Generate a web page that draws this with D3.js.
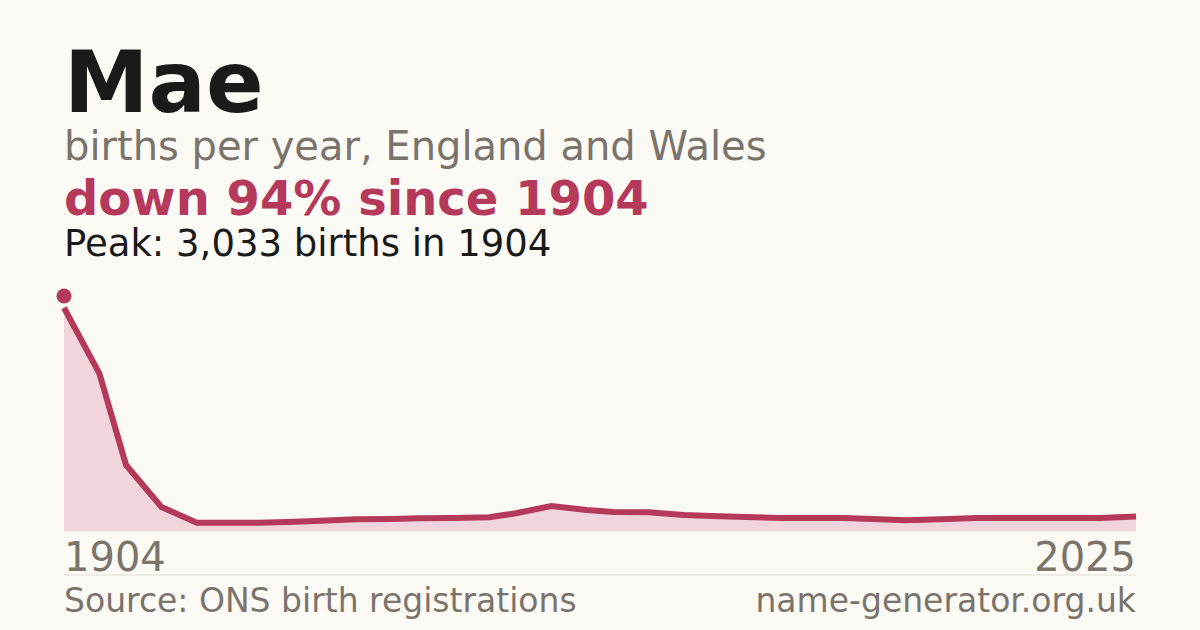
<!DOCTYPE html>
<html>
<head>
<meta charset="utf-8">
<script src="https://cdn.jsdelivr.net/npm/d3@7"></script>
<style>
  html, body { margin: 0; padding: 0; background: #fbfaf5; }
  svg { display: block; font-family: "DejaVu Sans", sans-serif; }
</style>
</head>
<body>
<div id="chart"></div>
<script>
// Births per year for the name
const years = [1904, 1908, 1911, 1915, 1919, 1922, 1926, 1930, 1933, 1937, 1941, 1944,
    1948, 1952, 1955, 1959, 1963, 1966, 1970, 1974, 1977, 1981, 1985, 1988,
    1992, 1996, 1999, 2003, 2007, 2010, 2014, 2018, 2021, 2025];
const births = [2881, 2030, 848, 304, 101, 101, 101, 114, 127, 145, 149, 158,
    162, 171, 223, 317, 265, 240, 236, 201, 188, 175, 162, 162,
    162, 145, 132, 145, 162, 162, 162, 162, 162, 182];
const peakYear = 1904;
const peakValue = 3033;
const xTickLabels = ['1904', '2025'];

const W = 1200, H = 630;
const left = 64, right = 1136;
const red = '#b5395a';
const grey = '#7a746c';

const svg = d3.select('#chart').append('svg')
    .attr('width', W)
    .attr('height', H);

svg.append('rect')
    .attr('width', W)
    .attr('height', H)
    .attr('fill', '#fbfaf5');

// Headings
svg.append('text')
    .attr('x', left).attr('y', 112)
    .style('font-size', '85px')
    .style('font-weight', '700')
    .style('fill', '#1a1a1a')
    .text('Mae');

svg.append('text')
    .attr('x', left).attr('y', 160)
    .style('font-size', '40px')
    .style('fill', grey)
    .text('births per year, England and Wales');

svg.append('text')
    .attr('x', left).attr('y', 215)
    .style('font-size', '48px')
    .style('font-weight', '700')
    .style('fill', red)
    .text(`down ${Math.round((1 - births[births.length - 1] / peakValue) * 100)}% since ${peakYear}`);

svg.append('text')
    .attr('x', left).attr('y', 256)
    .style('font-size', '37px')
    .style('fill', '#1a1a1a')
    .text(`Peak: ${d3.format(',')(peakValue)} births in ${peakYear}`);

// Scales
const xScale = d3.scaleLinear()
    .domain([years[0], years[years.length - 1]])
    .range([left, right]);

const yScale = d3.scaleLinear()
    .domain([0, peakValue])
    .range([530.5, 296]);

const data = years.map((y, i) => ({ year: y, value: births[i] }));

// Area + line
const area = d3.area()
    .x(d => xScale(d.year))
    .y0(yScale(0))
    .y1(d => yScale(d.value));

const line = d3.line()
    .x(d => xScale(d.year))
    .y(d => yScale(d.value));

svg.append('path')
    .datum(data)
    .attr('d', area)
    .attr('fill', '#f2d5dc');

svg.append('line')
    .attr('x1', left).attr('x2', right)
    .attr('y1', 531).attr('y2', 531)
    .attr('stroke', '#e2ddd5')
    .attr('stroke-width', 1);

svg.append('path')
    .datum(data)
    .attr('d', line)
    .attr('fill', 'none')
    .attr('stroke', red)
    .attr('stroke-width', 6);

// Peak marker
svg.append('circle')
    .attr('cx', xScale(peakYear))
    .attr('cy', yScale(peakValue))
    .attr('r', 7.5)
    .attr('fill', red);

// End labels
svg.append('text')
    .attr('x', left).attr('y', 571)
    .style('font-size', '40px')
    .style('fill', grey)
    .text(xTickLabels[0]);

svg.append('text')
    .attr('x', right).attr('y', 571)
    .attr('text-anchor', 'end')
    .style('font-size', '40px')
    .style('fill', grey)
    .text(xTickLabels[1]);

svg.append('line')
    .attr('x1', left).attr('x2', right)
    .attr('y1', 575).attr('y2', 575)
    .attr('stroke', '#e2ddd5')
    .attr('stroke-width', 1);

// Footer
svg.append('text')
    .attr('x', left).attr('y', 612)
    .style('font-size', '33px')
    .style('fill', grey)
    .text('Source: ONS birth registrations');

svg.append('text')
    .attr('x', right).attr('y', 612)
    .attr('text-anchor', 'end')
    .style('font-size', '33px')
    .style('fill', grey)
    .text('name-generator.org.uk');
</script>
</body>
</html>
